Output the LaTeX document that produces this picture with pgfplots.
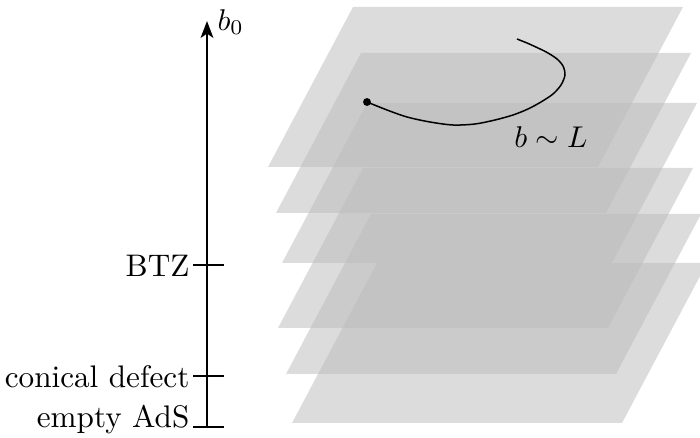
\documentclass[border=0pt]{standalone}
\usepackage{pgfplots}
\pgfplotsset{compat=1.18}
\usetikzlibrary{arrows.meta}
\definecolor{planegray}{RGB}{187,187,187}
\begin{document}
\begin{tikzpicture}[every node/.style={font=\fontsize{10.4pt}{12.5pt}\selectfont}]
\begin{axis}[
  scale only axis, width=233.33pt, height=146pt,
  xmin=0, xmax=700, ymin=0, ymax=438, y dir=reverse,
  hide axis, clip=true,
]
% invisible frame (bounding box)
\addplot[draw=none, forget plot] coordinates {(0,0) (700,438)};
% planes
\addplot[draw=none, fill=planegray, fill opacity=0.51] coordinates {(268,167) (353,7) (683,7) (598,167)} --cycle;
\addplot[draw=none, fill=planegray, fill opacity=0.51] coordinates {(276,213) (361,53) (691,53) (606,213)} --cycle;
\addplot[draw=none, fill=planegray, fill opacity=0.51] coordinates {(282,263) (367,103) (697,103) (612,263)} --cycle;
\addplot[draw=none, fill=planegray, fill opacity=0.51] coordinates {(278,328) (363,168) (693,168) (608,328)} --cycle;
\addplot[draw=none, fill=planegray, fill opacity=0.51] coordinates {(286,374) (371,214) (701,214) (616,374)} --cycle;
\addplot[draw=none, fill=planegray, fill opacity=0.51] coordinates {(292,423) (377,263) (707,263) (622,423)} --cycle;
% curve
\addplot[black, line width=0.5pt, smooth, tension=0.5] coordinates {(367,102) (387,110) (407,117) (430,122) (453,125) (475,124) (495,120) (513,115) (528,109) (541,102) (553,94) (561,85) (565,75) (563,66) (557,59) (548,53) (538,48) (527,43) (517,39)};
\addplot[only marks, mark=*, mark size=1.1pt, black] coordinates {(367,102)};
% vertical axis
\addplot[black, line width=0.9pt, -{Stealth[length=5.6pt,width=4.2pt,inset=1.4pt]}] coordinates {(207,427) (207,21)};
\addplot[black, line width=0.9pt] coordinates {(193,265) (224,265)};
\addplot[black, line width=0.9pt] coordinates {(193,376) (224,376)};
\addplot[black, line width=0.9pt] coordinates {(193,427) (224,427)};
\node[anchor=east, inner sep=1pt] at (axis cs:193,266) {BTZ};
\node[anchor=east, inner sep=1pt] at (axis cs:193,377) {conical defect};
\node[anchor=base east, inner sep=1pt] at (axis cs:193,428) {empty AdS};
\node[anchor=west] at (axis cs:207,22) {$b_0$};
\node at (axis cs:551,137) {$b\sim L$};
\end{axis}
\end{tikzpicture}
\end{document}
